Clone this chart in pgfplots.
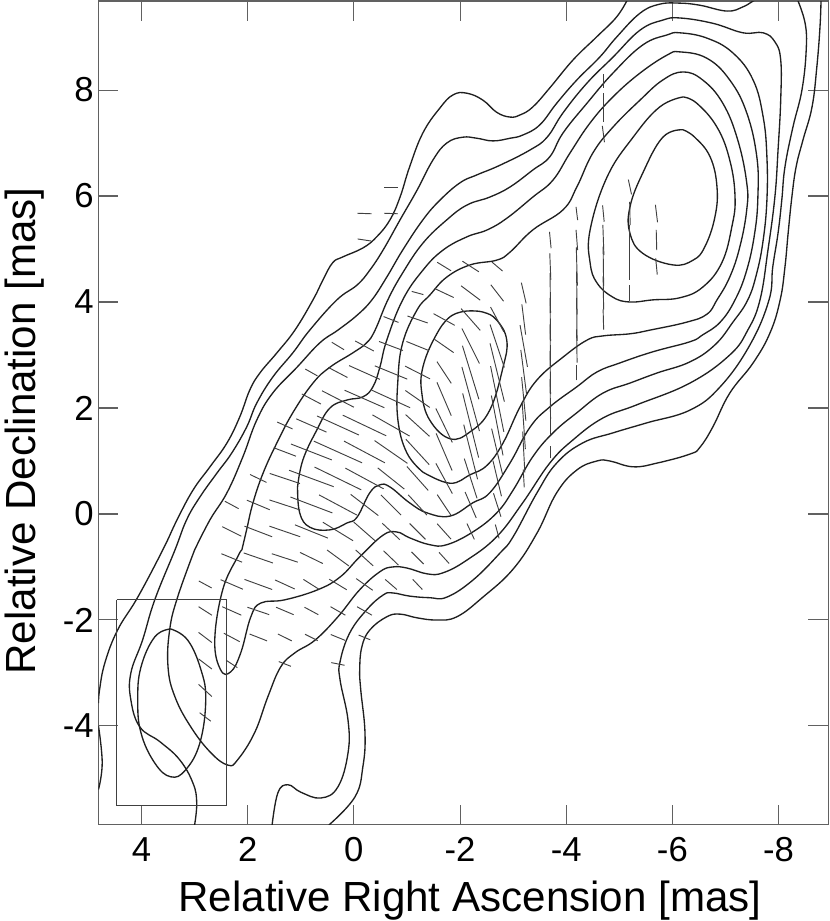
\documentclass[border=0pt]{standalone}
\usepackage{pgfplots}
\pgfplotsset{compat=1.18}
\usepackage{fontspec}
\setmainfont{Liberation Sans}
\definecolor{cline}{gray}{0.12}
\definecolor{vline}{gray}{0.25}
\definecolor{fline}{gray}{0.38}
\begin{document}
\begin{tikzpicture}
\useasboundingbox (0,0) rectangle (622.5pt,690.75pt);
\begin{axis}[
  at={(73.875pt,72.375pt)}, anchor=south west,
  scale only axis, width=547.5pt, height=617.6pt,
  xmin=-8.94, xmax=4.81, ymin=-5.86, ymax=9.68,
  x dir=reverse,
  xtick={4,2,0,-2,-4,-6,-8}, ytick={-4,-2,0,2,4,6,8},
  tick align=inside, major tick length=15pt,
  tick style={color=fline,line width=0.8pt},
  axis line style={color=fline,line width=1.1pt},
  /pgf/number format/assume math mode=true,
  ticklabel style={font=\fontsize{26}{30}\selectfont},
  xticklabel style={yshift=-6pt},
  xtick pos=both, ytick pos=both,
  xticklabel pos=bottom, yticklabel pos=left,
  xlabel={Relative Right Ascension [mas]},
  ylabel={Relative Declination [mas]},
  label style={font=\fontsize{31.6}{36}\selectfont},
  xlabel style={at={(axis description cs:0.509,0)},anchor=base,yshift=-65pt},
  ylabel style={at={(axis description cs:0,0.478)},anchor=base,yshift=47.6pt},
  contour/.style={cline,line width=1pt,smooth,tension=0.7,mark=none},
  clip=true,
]
% outermost level, three pieces
\addplot[contour] coordinates {(4.81,-3.57)(4.79,-3.32)(4.69,-2.81)(4.45,-2.19)(4.07,-1.57)(3.60,-0.68)(3.33,-0.11)(3.03,0.45)(2.71,0.89)(2.39,1.34)(2.15,1.83)(1.96,2.34)(1.77,2.66)(1.45,3.04)(1.11,3.47)(0.77,4.04)(0.58,4.42)(0.40,4.74)(0.21,4.85)(-0.17,5.02)(-0.43,5.23)(-0.68,5.55)(-0.87,5.98)(-1.05,6.55)(-1.30,7.19)(-1.62,7.66)(-1.87,7.91)(-2.13,7.94)(-2.43,7.81)(-2.69,7.58)(-2.94,7.49)(-3.13,7.53)(-3.37,7.68)(-3.69,8.04)(-4.13,8.57)(-4.57,9.00)(-4.95,9.38)(-5.16,9.72)};
\addplot[contour] coordinates {(-8.80,9.72)(-8.78,9.19)(-8.72,8.43)(-8.63,7.68)(-8.46,7.06)(-8.33,6.55)(-8.25,5.98)(-8.18,5.30)(-8.12,4.66)(-8.03,4.04)(-7.84,3.42)(-7.52,2.85)(-7.08,2.28)(-6.76,1.64)(-6.52,1.26)(-6.33,1.13)(-5.71,0.96)(-5.26,0.89)(-4.82,1.00)(-4.58,1.00)(-4.20,0.83)(-3.82,0.40)(-3.45,-0.36)(-3.00,-1.04)(-2.43,-1.57)(-1.94,-1.94)(-1.56,-2.00)(-1.19,-1.96)(-0.87,-1.89)(-0.62,-1.94)(-0.30,-2.19)(-0.15,-2.51)(-0.11,-2.94)(-0.13,-3.32)(-0.21,-4.13)(-0.17,-4.77)(-0.02,-5.34)(0.47,-5.87)};
\addplot[contour] coordinates {(4.81,-4.00)(4.74,-4.70)(4.81,-5.20)};
% second level, two pieces
\addplot[contour] coordinates {(3.00,-5.87)(2.96,-5.45)(3.03,-5.08)(3.28,-4.64)(3.65,-4.30)(4.03,-4.02)(4.20,-3.51)(4.20,-3.00)(3.98,-2.38)(3.75,-1.62)(3.37,-0.68)(3.15,-0.11)(2.90,0.32)(2.58,0.77)(2.30,1.15)(2.02,1.64)(1.83,2.09)(1.53,2.58)(1.15,3.04)(0.83,3.47)(0.32,4.04)(-0.06,4.32)(-0.30,4.60)(-0.55,4.98)(-0.87,5.55)(-1.19,6.11)(-1.49,6.68)(-1.75,7.00)(-2.05,7.11)(-2.32,7.09)(-2.62,7.04)(-2.94,7.09)(-3.18,7.15)(-3.50,7.34)(-3.82,7.75)(-4.20,8.19)(-4.63,8.62)(-4.95,9.00)(-5.39,9.45)(-5.76,9.62)(-6.14,9.64)(-6.52,9.60)(-7.03,9.49)(-7.33,9.57)(-7.52,9.68)(-7.65,9.74)};
\addplot[contour] coordinates {(-8.35,9.72)(-8.50,9.26)(-8.52,8.75)(-8.44,8.00)(-8.27,7.30)(-8.12,6.55)(-8.06,5.92)(-7.99,5.30)(-7.89,4.66)(-7.82,4.04)(-7.46,3.19)(-6.90,2.40)(-6.33,1.96)(-5.52,1.72)(-4.88,1.53)(-4.31,1.34)(-3.82,0.96)(-3.45,0.40)(-3.00,-0.43)(-2.75,-0.74)(-2.24,-1.25)(-1.75,-1.57)(-1.43,-1.58)(-1.05,-1.55)(-0.73,-1.49)(-0.55,-1.53)(-0.24,-1.81)(0.08,-2.25)(0.26,-2.79)(0.26,-3.13)(0.11,-3.89)(0.11,-4.51)(0.30,-5.15)(0.62,-5.36)(1.00,-5.25)(1.24,-5.11)(1.43,-5.26)(1.54,-5.87)};
% third level
\addplot[contour] coordinates {(3.00,-0.68)(2.71,-0.11)(2.39,0.40)(2.09,1.08)(1.83,1.77)(1.53,2.28)(1.07,2.77)(0.64,3.23)(0.30,3.47)(-0.06,3.75)(-0.34,4.04)(-0.62,4.47)(-0.92,4.98)(-1.30,5.55)(-1.62,5.92)(-2.00,6.25)(-2.32,6.40)(-2.75,6.58)(-3.32,6.87)(-3.64,7.11)(-3.94,7.57)(-4.39,8.13)(-4.88,8.62)(-5.39,9.13)(-5.82,9.32)(-6.14,9.36)(-6.76,9.26)(-7.33,9.08)(-7.71,9.08)(-7.93,8.91)(-8.04,8.57)(-8.04,7.81)(-7.99,6.87)(-7.93,5.98)(-7.80,4.98)(-7.65,4.04)(-7.42,3.47)(-7.08,3.00)(-6.33,2.47)(-5.33,2.06)(-4.69,1.81)(-4.13,1.40)(-3.69,0.96)(-3.18,0.21)(-2.69,-0.43)(-2.13,-0.87)(-1.68,-1.11)(-1.38,-1.13)(-1.00,-1.02)(-0.73,-1.00)(-0.49,-1.09)(-0.11,-1.43)(0.30,-1.94)(0.73,-2.38)(1.11,-2.62)(1.38,-2.89)(1.62,-3.45)(1.87,-4.13)(2.19,-4.64)(2.37,-4.74)(2.69,-4.51)(3.07,-4.02)(3.37,-3.45)(3.50,-2.89)(3.47,-2.19)(3.32,-1.57)(3.00,-0.68)};
% fourth level
\addplot[contour] coordinates {(2.11,-0.68)(2.02,-0.30)(1.90,0.21)(1.71,0.77)(1.45,1.34)(1.15,1.91)(0.77,2.47)(0.45,2.77)(0.02,3.04)(-0.24,3.23)(-0.40,3.47)(-0.64,4.04)(-0.92,4.55)(-1.30,5.11)(-1.75,5.55)(-2.13,5.83)(-2.56,5.98)(-2.94,6.17)(-3.37,6.49)(-3.69,6.74)(-3.94,7.19)(-4.39,7.75)(-4.88,8.32)(-5.44,8.85)(-5.90,9.04)(-6.14,9.08)(-6.65,8.98)(-7.14,8.70)(-7.52,8.19)(-7.71,7.49)(-7.78,6.74)(-7.78,5.92)(-7.71,5.17)(-7.59,4.55)(-7.42,4.04)(-7.14,3.62)(-6.80,3.19)(-6.33,2.87)(-5.71,2.66)(-5.20,2.47)(-4.69,2.28)(-4.20,1.91)(-3.75,1.53)(-3.37,1.08)(-3.00,0.45)(-2.69,0.02)(-2.24,-0.34)(-1.75,-0.58)(-1.43,-0.58)(-1.05,-0.45)(-0.81,-0.34)(-0.55,-0.40)(-0.11,-0.81)(0.26,-1.19)(0.68,-1.43)(1.30,-1.62)(1.75,-1.68)(1.94,-1.94)(2.13,-2.62)(2.32,-2.98)(2.51,-2.94)(2.62,-2.38)(2.47,-1.43)(2.19,-0.81)(2.11,-0.68)};
% fifth level
\addplot[contour] coordinates {(1.06,0.51)(0.96,1.02)(0.70,1.58)(0.45,2.00)(0.13,2.15)(-0.17,2.21)(-0.36,2.40)(-0.49,2.77)(-0.62,3.28)(-0.92,4.04)(-1.30,4.60)(-1.68,4.98)(-2.13,5.23)(-2.51,5.36)(-2.88,5.58)(-3.37,5.98)(-3.75,6.30)(-4.07,6.81)(-4.45,7.38)(-4.88,7.87)(-5.39,8.32)(-5.90,8.66)(-6.14,8.72)(-6.65,8.60)(-7.08,8.19)(-7.40,7.57)(-7.59,6.74)(-7.61,5.98)(-7.55,5.30)(-7.40,4.60)(-7.18,4.04)(-6.90,3.62)(-6.57,3.38)(-6.33,3.25)(-5.63,3.06)(-5.01,2.85)(-4.58,2.68)(-4.20,2.40)(-3.69,2.02)(-3.32,1.64)(-2.94,0.96)(-2.56,0.40)(-2.24,0.21)(-1.81,-0.04)(-1.38,0.02)(-1.05,0.21)(-0.68,0.51)(-0.49,0.55)(-0.30,0.40)(-0.06,-0.06)(0.13,-0.17)(0.45,-0.30)(0.83,-0.25)(1.02,0.02)(1.06,0.51)};
% sixth level
\addplot[contour] coordinates {(-1.30,0.79)(-1.00,1.15)(-0.83,1.77)(-0.83,2.53)(-0.92,3.23)(-1.19,3.85)(-1.43,4.13)(-1.75,4.47)(-2.19,4.70)(-2.69,4.79)(-2.94,4.94)(-3.37,5.36)(-3.94,5.74)(-4.20,6.17)(-4.50,6.81)(-4.88,7.30)(-5.39,7.81)(-5.82,8.19)(-6.20,8.34)(-6.57,8.19)(-6.95,7.75)(-7.23,7.06)(-7.40,6.25)(-7.40,5.74)(-7.27,5.04)(-7.08,4.47)(-6.84,4.04)(-6.65,3.77)(-6.27,3.62)(-5.58,3.47)(-5.20,3.40)(-4.69,3.36)(-4.39,3.28)(-3.94,2.96)(-3.45,2.53)(-3.13,2.02)(-2.81,1.34)(-2.51,0.92)(-2.19,0.74)(-1.81,0.58)(-1.30,0.79)};
% north peak
\addplot[contour] coordinates {(-6.20,7.87)(-5.76,7.68)(-5.26,7.11)(-4.77,6.36)(-4.45,5.36)(-4.45,4.74)(-4.58,4.36)(-4.88,4.09)(-5.20,4.00)(-5.63,4.04)(-6.14,4.08)(-6.57,4.28)(-6.93,4.74)(-7.12,5.42)(-7.18,5.98)(-7.08,6.68)(-6.84,7.30)(-6.46,7.75)(-6.20,7.87)};
\addplot[contour] coordinates {(-6.20,7.25)(-5.82,7.11)(-5.44,6.43)(-5.20,5.79)(-5.20,5.30)(-5.44,4.92)(-6.01,4.70)(-6.39,4.79)(-6.61,5.04)(-6.80,5.60)(-6.84,6.17)(-6.71,6.74)(-6.42,7.11)(-6.20,7.25)};
% middle lobe
\addplot[contour] coordinates {(-2.13,3.83)(-1.81,3.72)(-1.53,3.34)(-1.30,2.77)(-1.28,2.28)(-1.43,1.77)(-1.81,1.42)(-2.19,1.55)(-2.56,1.96)(-2.81,2.77)(-2.88,3.28)(-2.69,3.66)(-2.43,3.81)(-2.13,3.83)};
% south-east lobe
\addplot[contour] coordinates {(3.45,-2.17)(3.75,-2.32)(4.01,-2.89)(4.07,-3.51)(4.01,-4.13)(3.75,-4.70)(3.45,-4.96)(3.17,-4.83)(2.90,-4.32)(2.79,-3.51)(2.88,-2.94)(3.13,-2.38)(3.45,-2.17)};
% beam box
\addplot[black!75,line width=0.8pt,mark=none] coordinates {(4.47,-1.62)(2.40,-1.62)(2.40,-5.51)(4.47,-5.51)(4.47,-1.62)};
% polarization vectors: centre x, centre y, extent u, v
\addplot[vline,line width=0.7pt,no markers,
  quiver={u=\thisrow{u},v=\thisrow{v}}]
 table[x expr=\thisrow{x}-0.5*\thisrow{u},y expr=\thisrow{y}-0.5*\thisrow{v}] {
x y u v
2.8 -3.83 .21 .16
2.8 -3.33 .25 .23
2.8 -2.83 .25 .19
2.3 -2.83 .21 .14
1.3 -2.83 .23 .09
.3 -2.83 .25 .05
2.8 -2.33 .25 .19
2.3 -2.33 .30 .16
1.8 -2.33 .33 .13
1.3 -2.33 .26 .13
.8 -2.33 .24 .12
.3 -2.33 .27 .11
-.2 -2.33 .22 .09
2.8 -1.83 .25 .16
2.3 -1.83 .36 .16
1.8 -1.83 .41 .14
1.3 -1.83 .33 .14
.8 -1.83 .26 .14
.3 -1.83 .28 .16
-.2 -1.83 .28 .16
2.8 -1.33 .24 .13
2.3 -1.33 .42 .18
1.8 -1.33 .52 .19
1.3 -1.33 .37 .17
.8 -1.33 .30 .19
.3 -1.33 .33 .20
-.2 -1.33 .31 .22
-.7 -1.33 .22 .19
-1.2 -1.33 .18 .19
2.3 -.83 .39 .16
1.8 -.83 .55 .19
1.3 -.83 .49 .16
.8 -.83 .43 .21
.3 -.83 .41 .30
-.2 -.83 .33 .30
-.7 -.83 .28 .27
-1.2 -.83 .23 .23
-1.7 -.83 .19 .21
2.3 -.33 .36 .18
1.8 -.33 .52 .20
1.3 -.33 .58 .20
.8 -.33 .62 .25
.3 -.33 .57 .35
-.2 -.33 .41 .36
-.7 -.33 .33 .31
-1.2 -.33 .30 .30
-1.7 -.33 .26 .29
-2.2 -.33 .14 .30
-2.7 -.33 .07 .26
2.3 .17 .26 .14
1.8 .17 .43 .18
1.3 .17 .58 .19
.8 .17 .79 .30
.3 .17 .71 .38
-.2 .17 .52 .40
-.7 .17 .38 .38
-1.2 .17 .35 .38
-1.7 .17 .26 .39
-2.2 .17 .21 .49
-2.7 .17 .14 .44
1.8 .67 .31 .15
1.3 .67 .57 .19
.8 .67 .84 .31
.3 .67 .88 .43
-.2 .67 .72 .39
-.7 .67 .50 .40
-1.2 .67 .40 .45
-1.7 .67 .31 .57
-2.2 .67 .24 .75
-2.7 .67 .16 .67
-3.2 .67 .02 .34
1.3 1.17 .42 .16
.8 1.17 .77 .30
.3 1.17 .91 .41
-.2 1.17 .77 .41
-.7 1.17 .62 .43
-1.2 1.17 .44 .48
-1.7 1.17 .30 .70
-2.2 1.17 .26 1.03
-2.7 1.17 .21 .88
-3.2 1.17 .04 .77
-3.7 1.17 0 .24
1.3 1.67 .29 .13
.8 1.67 .57 .25
.3 1.67 .79 .36
-.2 1.67 .82 .39
-.7 1.67 .70 .40
-1.2 1.67 .45 .41
-1.7 1.67 .31 .64
-2.2 1.67 .30 1.21
-2.7 1.67 .22 1.13
-3.2 1.67 .06 .89
-3.7 1.67 0 .36
.8 2.17 .36 .19
.3 2.17 .60 .31
-.2 2.17 .75 .33
-.7 2.17 .72 .33
-1.2 2.17 .46 .32
-1.7 2.17 .27 .63
-2.2 2.17 .33 1.21
-2.7 2.17 .25 1.24
-3.2 2.17 .08 .82
-3.7 2.17 .01 .75
-4.2 2.67 0 .30
.8 2.67 .23 .13
.3 2.67 .36 .19
-.2 2.67 .58 .26
-.7 2.67 .61 .25
-1.2 2.67 .47 .24
-1.7 2.67 .27 .41
-2.2 2.67 .31 1.01
-2.7 2.67 .27 1.10
-3.2 2.67 .11 .85
-3.7 2.67 .01 .82
.3 3.17 .23 .14
-.2 3.17 .35 .19
-.7 3.17 .45 .17
-1.2 3.17 .42 .17
-1.7 3.17 .36 .25
-2.2 3.17 .33 .66
-2.7 3.17 .27 .81
-3.2 3.17 .14 .79
-3.7 3.17 .01 .82
-4.2 3.17 .01 .63
-.7 3.67 .28 .11
-1.2 3.67 .38 .13
-1.7 3.67 .40 .22
-2.2 3.67 .36 .41
-2.7 3.67 .25 .47
-3.2 3.67 .07 .57
-3.7 3.67 .01 .82
-4.2 3.67 .01 .82
-4.7 3.67 .01 .38
-1.2 4.17 .22 .06
-1.7 4.17 .36 .17
-2.2 4.17 .36 .27
-2.7 4.17 .24 .31
-3.2 4.17 .09 .39
-3.7 4.17 .01 .75
-4.2 4.17 .01 .82
-4.7 4.17 .01 .63
-5.2 4.17 0 .31
-1.7 4.67 .26 .16
-2.2 4.67 .31 .20
-2.7 4.67 .20 .17
-3.7 4.67 .02 .50
-4.2 4.67 .02 .72
-4.7 4.67 .01 .75
-5.2 4.67 0 .50
-5.7 4.67 .03 .31
-.2 5.17 .26 .04
-3.7 5.17 .03 .31
-4.2 5.17 .03 .38
-4.7 5.17 .02 .57
-5.2 5.17 0 .57
-5.7 5.17 .01 .38
-.2 5.67 .27 .01
-.7 5.67 .26 .01
-4.2 5.67 .03 .25
-4.7 5.67 .03 .31
-5.2 5.67 .01 .44
-5.7 5.67 .04 .33
-.7 6.17 .25 0
-5.2 6.17 .06 .28
-4.7 7.17 .04 .31
-4.7 7.67 0 .53
-4.7 8.17 0 .25
};
\end{axis}
\end{tikzpicture}
\end{document}
